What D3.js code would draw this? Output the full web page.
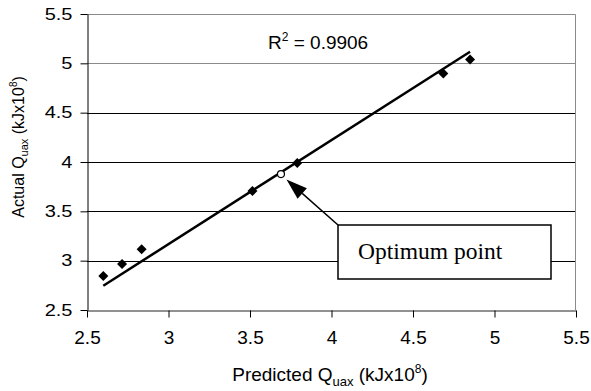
<!DOCTYPE html>
<html>
<head>
<meta charset="utf-8">
<script src="https://cdn.jsdelivr.net/npm/d3@7"></script>
<style>
  body { margin: 0; background: #fff; }
  svg { display: block; }
  text { font-family: "Liberation Sans", Arial, sans-serif; fill: #000; }
</style>
</head>
<body>
<div id="chart"></div>
<script>
// data
var predicted = [2.6, 2.715, 2.835, 3.515, 3.79, 4.686, 4.85];
var actual = [2.845, 2.966, 3.115, 3.706, 3.99, 4.898, 5.04];
var optimumX = 3.69;
var optimumY = 3.878;
var trendX = [2.6, 4.85];
var trendY = [2.746, 5.117];
var xTicks = [2.5, 3, 3.5, 4, 4.5, 5, 5.5];
var yTicks = [2.5, 3, 3.5, 4, 4.5, 5, 5.5];
var rSquared = '0.9906';

var chart_width = 591;
var chart_height = 391;
// plot area (note: "top" is reserved on window, so use plot_ names)
var plot_left = 87, plot_right = 576, plot_top = 14, plot_bottom = 310;

var svg = d3.select('#chart')
  .append('svg')
  .attr('width', chart_width)
  .attr('height', chart_height);

var x_scale = d3.scaleLinear().domain([2.5, 5.5]).range([plot_left, plot_right]);
var y_scale = d3.scaleLinear().domain([2.5, 5.5]).range([plot_bottom, plot_top]);

// horizontal gridlines
svg.append('g')
  .selectAll('line')
  .data(yTicks.slice(1, -1))
  .enter()
  .append('line')
  .attr('x1', plot_left)
  .attr('x2', plot_right)
  .attr('y1', function(d) { return Math.round(y_scale(d)) + 0.5; })
  .attr('y2', function(d) { return Math.round(y_scale(d)) + 0.5; })
  .attr('stroke', function(d) { return d === 5 ? '#8a8a8a' : '#000'; })
  .attr('stroke-width', 1);

// plot border top / right
svg.append('path')
  .attr('d', 'M' + plot_left + ',' + (plot_top + 0.5) + 'H' + (plot_right - 0.5) + 'V' + plot_bottom)
  .attr('fill', 'none')
  .attr('stroke', '#8a8a8a')
  .attr('stroke-width', 1);

// axes
var x_axis = d3.axisBottom(x_scale)
  .tickValues(xTicks)
  .tickFormat(function(d) { return String(d); })
  .tickSizeInner(7)
  .tickSizeOuter(0)
  .tickPadding(13.5);

var y_axis = d3.axisLeft(y_scale)
  .tickValues(yTicks)
  .tickFormat(function(d) { return String(d); })
  .tickSizeInner(7)
  .tickSizeOuter(0);

var gx = svg.append('g')
  .attr('transform', 'translate(0,' + (plot_bottom + 0.5) + ')')
  .call(x_axis);
gx.select('.domain').attr('stroke', '#222');
gx.selectAll('text')
  .style('font-family', '"Liberation Sans", Arial, sans-serif')
  .style('font-size', '19px');

var gy = svg.append('g')
  .attr('transform', 'translate(' + (plot_left + 0.5) + ',0)')
  .call(y_axis);
gy.selectAll('text')
  .attr('x', 0)
  .attr('transform', 'translate(-15,0) scale(1.25,1)')
  .style('font-family', '"Liberation Sans", Arial, sans-serif')
  .style('font-size', '16px');

// trend line
var line = d3.line()
  .x(function(d) { return x_scale(d[0]); })
  .y(function(d) { return y_scale(d[1]); });

svg.append('path')
  .datum(d3.zip(trendX, trendY))
  .attr('fill', 'none')
  .attr('stroke', '#000')
  .attr('stroke-width', 2.5)
  .attr('d', line);

// diamond markers
var diamond = d3.symbol().type(d3.symbolSquare).size(50);
svg.append('g')
  .selectAll('path')
  .data(d3.zip(predicted, actual))
  .enter()
  .append('path')
  .attr('d', diamond)
  .attr('fill', '#000')
  .attr('transform', function(d) {
    return 'translate(' + x_scale(d[0]) + ',' + y_scale(d[1]) + ') rotate(45)';
  });

// optimum point
svg.append('circle')
  .attr('cx', x_scale(optimumX))
  .attr('cy', y_scale(optimumY))
  .attr('r', 3.5)
  .attr('fill', '#fff')
  .attr('stroke', '#000')
  .attr('stroke-width', 1.2);

// R squared label
var rText = svg.append('text')
  .attr('x', 268)
  .attr('y', 49)
  .style('font-size', '19px');
rText.append('tspan').text('R');
rText.append('tspan').attr('dy', -8).style('font-size', '12px').text('2');
rText.append('tspan').attr('dy', 8).text(' = ' + rSquared);

// annotation box + arrow
var box = { x: 338, y: 225, w: 213, h: 54 };
svg.append('rect')
  .attr('x', box.x)
  .attr('y', box.y)
  .attr('width', box.w)
  .attr('height', box.h)
  .attr('fill', '#fff')
  .attr('stroke', '#000')
  .attr('stroke-width', 1.5);

svg.append('text')
  .attr('x', 358)
  .attr('y', 259)
  .style('font-family', '"Liberation Serif", "Times New Roman", serif')
  .style('font-size', '23.5px')
  .text('Optimum point');

var tipX = x_scale(optimumX) + 5.5, tipY = y_scale(optimumY) + 5.5;
var angle = Math.atan2(tipY - box.y, tipX - box.x);
var headLen = 21, headW = 7;
var baseX = tipX - headLen * Math.cos(angle), baseY = tipY - headLen * Math.sin(angle);

svg.append('line')
  .attr('x1', box.x)
  .attr('y1', box.y)
  .attr('x2', baseX)
  .attr('y2', baseY)
  .attr('stroke', '#000')
  .attr('stroke-width', 1.5);

svg.append('path')
  .attr('d', 'M' + tipX + ',' + tipY +
    'L' + (baseX + headW * Math.sin(angle)) + ',' + (baseY - headW * Math.cos(angle)) +
    'L' + (baseX - headW * Math.sin(angle)) + ',' + (baseY + headW * Math.cos(angle)) + 'Z')
  .attr('fill', '#000');

// axis titles
var xTitle = svg.append('text')
  .attr('x', 330)
  .attr('y', 381)
  .attr('text-anchor', 'middle')
  .style('font-size', '19px');
xTitle.append('tspan').text('Predicted Q');
xTitle.append('tspan').attr('dy', 5).style('font-size', '13px').text('uax');
xTitle.append('tspan').attr('dy', -5).text(' (kJx10');
xTitle.append('tspan').attr('dy', -8).style('font-size', '12px').text('8');
xTitle.append('tspan').attr('dy', 8).text(')');

var yTitle = svg.append('text')
  .attr('transform', 'translate(24,147) rotate(-90)')
  .attr('text-anchor', 'middle')
  .style('font-size', '16px');
yTitle.append('tspan').text('Actual Q');
yTitle.append('tspan').attr('dy', 4).style('font-size', '11px').text('uax');
yTitle.append('tspan').attr('dy', -4).text(' (kJx10');
yTitle.append('tspan').attr('dy', -7).style('font-size', '10px').text('8');
yTitle.append('tspan').attr('dy', 7).text(')');
</script>
</body>
</html>
